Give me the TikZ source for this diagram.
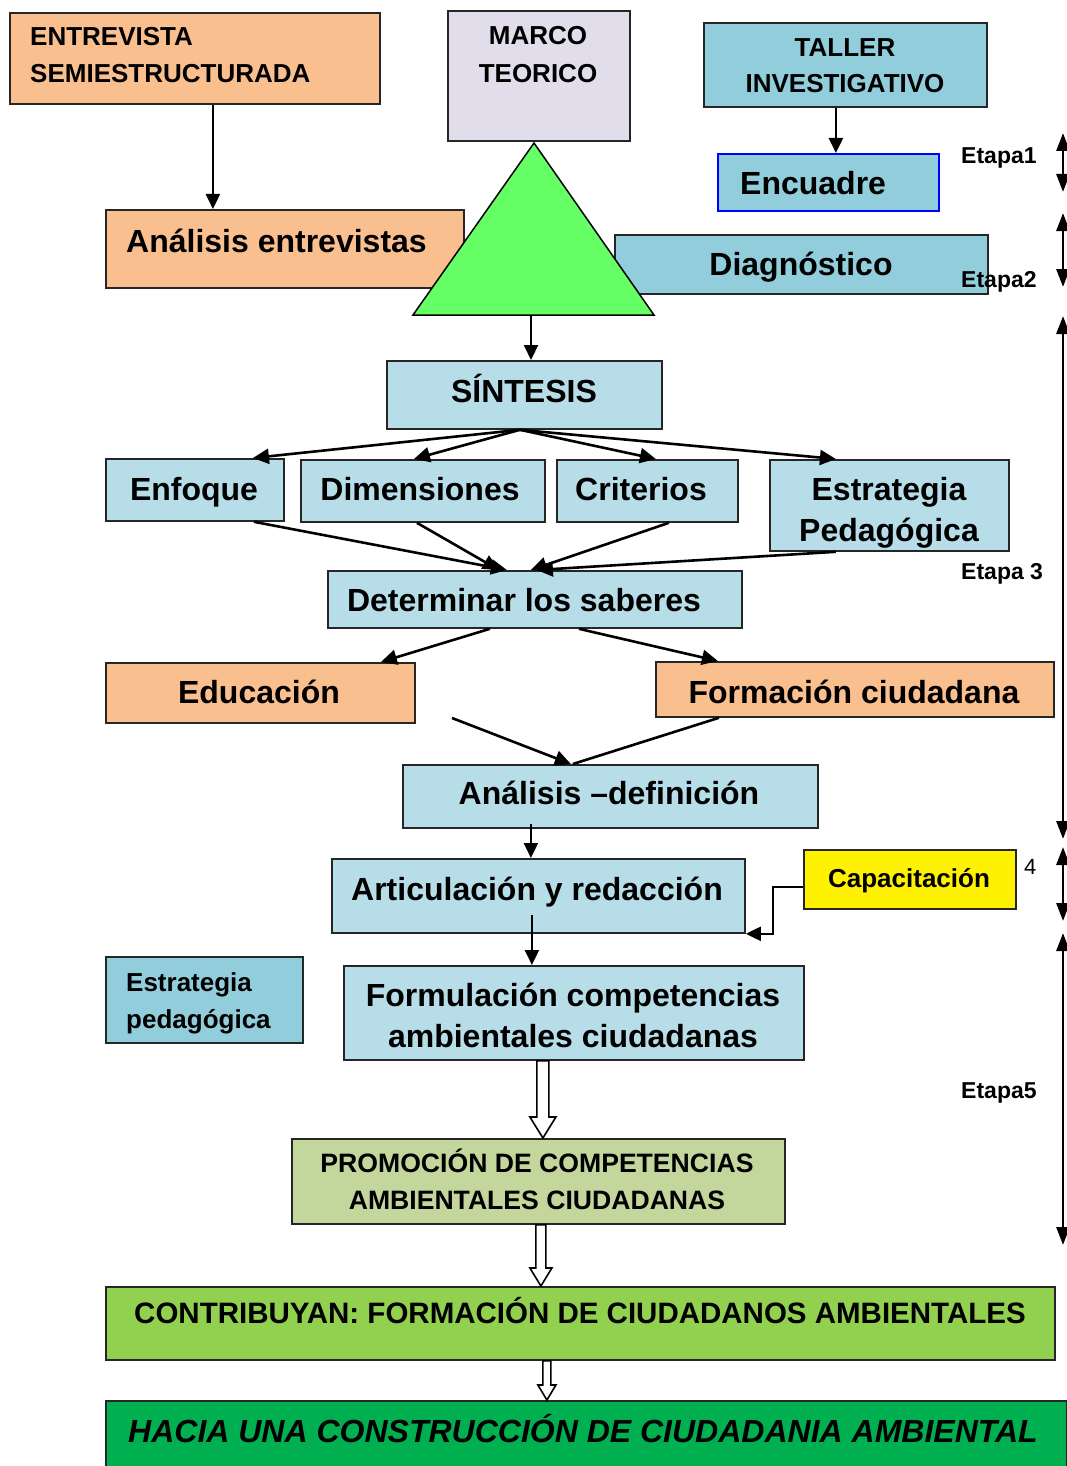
\documentclass[tikz,border=0pt]{standalone}
\usepackage{fontspec}
\setmainfont{Liberation Sans}
\usetikzlibrary{arrows.meta,calc}
\definecolor{peach}{HTML}{F9BF8F}
\definecolor{lav}{HTML}{E1DDEB}
\definecolor{teal}{HTML}{92CDDC}
\definecolor{lblue}{HTML}{B7DEE8}
\definecolor{trig}{HTML}{66FF66}
\definecolor{olive}{HTML}{C3D69B}
\definecolor{gA}{HTML}{92D050}
\definecolor{gB}{HTML}{00B050}
\newcommand\bx[6]{\pgfmathsetmacro\bxw{#4-#2}\pgfmathsetmacro\bxh{#5-#3}%
  \node[box,#6,minimum width=\bxw pt,minimum height=\bxh pt] (#1) at (#2,#3) {};}
\newcommand\hol[5]{\draw[line width=1.6pt, fill=white] let \p1=#1, \p2=#2 in
  ({\x1-#3},{\y1}) -- ({\x1-#3},{\y2+#5}) -- ({\x1-#4},{\y2+#5}) -- ({\x1},{\y2})
  -- ({\x1+#4},{\y2+#5}) -- ({\x1+#3},{\y2+#5}) -- ({\x1+#3},{\y1}) -- cycle;}
\begin{document}
\begin{tikzpicture}[x=1pt,y=-1pt,
  box/.style={draw=black!85, line width=1.8pt, inner sep=0pt, anchor=north west},
  tA/.style={inner sep=0pt, font=\bfseries\fontsize{26}{30}\selectfont},
  tB/.style={inner sep=0pt, font=\bfseries\fontsize{32}{36}\selectfont},
  tE/.style={inner sep=0pt, anchor=base west, font=\bfseries\fontsize{23}{26}\selectfont},
  arr/.style={draw, line width=2.2pt, -{Triangle[length=15pt,width=14pt]}},
  fan/.style={draw, line width=2.6pt, -{Triangle[length=16pt,width=15pt]}},
  darr/.style={draw, line width=2.8pt, {Triangle[length=18pt,width=13pt]}-{Triangle[length=18pt,width=13pt]}}]
\useasboundingbox (0,0) rectangle (1067,1466);

% ---- top boxes
\bx{ent}{9}{12}{379}{103}{fill=peach}
\node[tA,anchor=base west] (ent1) at (30,46) {ENTREVISTA};
\node[tA,anchor=base west] (ent2) at (30,83) {SEMIESTRUCTURADA};
\bx{marco}{447}{10}{629}{140}{fill=lav}
\node[tA,anchor=base] (mar1) at (538,45) {MARCO};
\node[tA,anchor=base] (mar2) at (538,83) {TEORICO};
\bx{taller}{703}{22}{986}{106}{fill=teal}
\node[tA,anchor=base] (tal1) at (845,57) {TALLER};
\node[tA,anchor=base] (tal2) at (845,93) {INVESTIGATIVO};
\bx{enc}{717}{153}{938}{210}{fill=teal,draw=blue}
\node[tB,anchor=base west] (enct) at (740,194) {Encuadre};
\bx{anent}{105}{209}{463}{287}{fill=peach}
\node[tB,anchor=base west] (anentt) at (126,252) {Análisis entrevistas};
\bx{diag}{614}{234}{987}{293}{fill=teal}
\node[tB,anchor=base] (diagt) at (801,275) {Diagnóstico};

% triangle
\draw[fill=trig, line width=1.5pt, line join=miter] (534,143) -- (654,315) -- (413,315) -- cycle;
\coordinate (triB) at (531,315);

\node[tE] (e1) at (961,164) {Etapa1};
\node[tE] (e2) at (961,287) {Etapa2};

% ---- middle
\bx{sin}{386}{360}{661}{428}{fill=lblue}
\node[tB,anchor=base] (sint) at (524,402) {SÍNTESIS};
\bx{enf}{105}{458}{283}{520}{fill=lblue}
\node[tB,anchor=base] (enft) at (194,500) {Enfoque};
\bx{dim}{300}{459}{544}{521}{fill=lblue}
\node[tB,anchor=base] (dimt) at (420,500) {Dimensiones};
\bx{cri}{556}{459}{737}{521}{fill=lblue}
\node[tB,anchor=base] (crit) at (641,500) {Criterios};
\bx{est}{769}{459}{1008}{550}{fill=lblue}
\node[tB,anchor=base] (est1) at (889,500) {Estrategia};
\node[tB,anchor=base] (est2) at (889,541) {Pedagógica};
\bx{det}{327}{570}{741}{627}{fill=lblue}
\node[tB,anchor=base] (dett) at (524,611) {Determinar los saberes};
\node[tE] (e3) at (961,579) {Etapa 3};
\bx{edu}{105}{662}{414}{722}{fill=peach}
\node[tB,anchor=base] (edut) at (259,703) {Educación};
\bx{form}{655}{661}{1053}{716}{fill=peach}
\node[tB,anchor=base] (formt) at (854,703) {Formación ciudadana};
\bx{anal}{402}{764}{817}{827}{fill=lblue}
\node[tB,anchor=base] (analt) at (609,804) {Análisis –definición};
\bx{art}{331}{858}{744}{932}{fill=lblue}
\node[tB,anchor=base] (artt) at (537,900) {Articulación y redacción};
\bx{cap}{803}{849}{1015}{908}{fill=yellow}
\node[tA,anchor=base] (capt) at (909,887) {Capacitación};
\node[inner sep=0pt,anchor=base west,font=\fontsize{22}{24}\selectfont] (four) at (1024,874) {4};
\bx{estp}{105}{956}{302}{1042}{fill=teal}
\node[tA,anchor=base west] (estp1) at (126,991) {Estrategia};
\node[tA,anchor=base west] (estp2) at (126,1028) {pedagógica};
\bx{formu}{343}{965}{803}{1059}{fill=lblue}
\node[tB,anchor=base] (formu1) at (573,1006) {Formulación competencias};
\node[tB,anchor=base] (formu2) at (573,1047) {ambientales ciudadanas};
\node[tE] (e5) at (961,1098) {Etapa5};
\bx{prom}{291}{1138}{784}{1223}{fill=olive}
\node[inner sep=0pt,anchor=base,font=\bfseries\fontsize{26.6}{30}\selectfont] (prom1) at (537,1172) {PROMOCIÓN DE COMPETENCIAS};
\node[inner sep=0pt,anchor=base,font=\bfseries\fontsize{26.6}{30}\selectfont] (prom2) at (537,1209) {AMBIENTALES CIUDADANAS};
\bx{contr}{105}{1286}{1054}{1359}{fill=gA}
\node[inner sep=0pt,anchor=base,font=\bfseries\fontsize{29.5}{32}\selectfont] (contrt) at (580,1323) {CONTRIBUYAN: FORMACIÓN DE CIUDADANOS AMBIENTALES};
\bx{hacia}{105}{1400}{1066}{1480}{fill=gB}
\node[inner sep=0pt,anchor=base west,font=\bfseries\itshape\fontsize{32}{34}\selectfont] (haciat) at (128,1442) {HACIA UNA CONSTRUCCIÓN DE CIUDADANIA AMBIENTAL};

% ---- connectors
\draw[arr] ([xshift=18pt]ent.south) -- ([xshift=18pt]ent.south |- anent.north);
\draw[arr] ([xshift=-9.5pt]taller.south) -- ([xshift=-9.5pt]taller.south |- enc.north);
\draw[arr] (triB) -- (triB |- sin.north);

\coordinate (sinO) at ([xshift=-4.5pt]sin.south);
\draw[fan] (sinO) -- ([xshift=58pt]enf.north);
\draw[fan] (sinO) -- ([xshift=-9pt]dim.north);
\draw[fan] (sinO) -- ([xshift=8.5pt]cri.north);
\draw[fan] (sinO) -- ([xshift=-53.5pt]est.north);

\draw[fan] ([xshift=59pt]enf.south) -- ([xshift=-28pt]det.north);
\draw[fan] ([xshift=-6pt]dim.south) -- ([xshift=-36pt]det.north);
\draw[fan] ([xshift=21.5pt]cri.south) -- ([xshift=-4pt]det.north);
\draw[fan] ([xshift=-53.5pt]est.south) -- ([xshift=2pt]det.north);

\draw[fan] ([xshift=-45pt]det.south) -- ([xshift=120.5pt]edu.north);
\draw[fan] ([xshift=44pt]det.south) -- ([xshift=-137pt]form.north);

\coordinate (eduO) at (452,718);
\draw[line width=2.6pt] ([xshift=-136pt]form.south) -- ([xshift=-37.5pt]anal.north);
\draw[fan] (eduO) -- ([xshift=-39.5pt]anal.north);

\draw[arr] ([xshift=-79.5pt,yshift=5pt]anal.south) -- ([xshift=-79.5pt]anal.south |- art.north);
\draw[arr] ([xshift=-6.5pt,yshift=19pt]art.south) -- ([xshift=-6.5pt]art.south |- formu.north);
\draw[arr] ([yshift=-7.5pt]cap.west) -- ++(-30,0) |- (art.south east);

\coordinate (h1) at ([xshift=-31pt]formu.south);
\hol{(h1)}{(h1 |- prom.north)}{6pt}{13pt}{21pt}
\coordinate (h2) at ([xshift=2.5pt]prom.south);
\hol{(h2)}{(h2 |- contr.north)}{5pt}{11pt}{18pt}
\coordinate (h3) at ([xshift=-33.5pt]contr.south);
\hol{(h3)}{(h3 |- hacia.north)}{4pt}{9pt}{15pt}

% ---- stage brackets
\coordinate (s1a) at (1063,133); \coordinate (s1b) at (1063,192);
\coordinate (s2a) at (1063,213); \coordinate (s2b) at (1063,287);
\coordinate (s3a) at (1063,316); \coordinate (s3b) at (1063,839);
\coordinate (s4a) at (1063,847); \coordinate (s4b) at (1063,921);
\coordinate (s5a) at (1063,933); \coordinate (s5b) at (1063,1245);
\draw[darr] (s1a) -- (s1b);
\draw[darr] (s2a) -- (s2b);
\draw[darr] (s3a) -- (s3b);
\draw[darr] (s4a) -- (s4b);
\draw[darr] (s5a) -- (s5b);
\end{tikzpicture}
\end{document}
